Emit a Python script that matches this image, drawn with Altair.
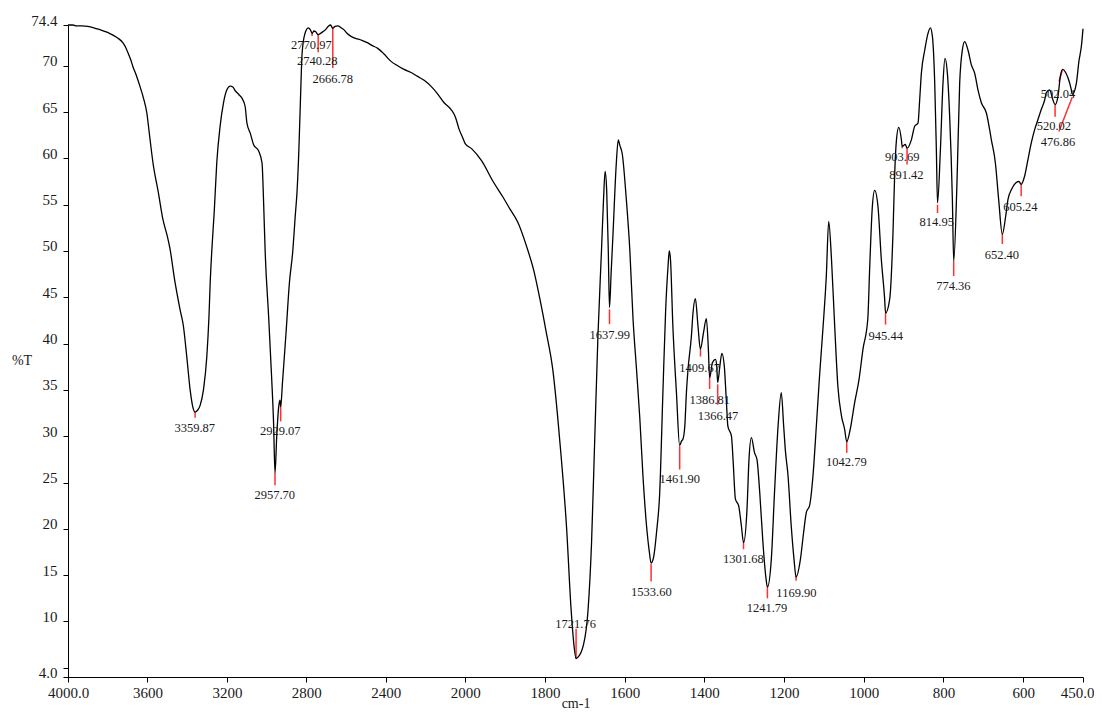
import altair as alt
import pandas as pd

# ---- spectrum (wavenumber cm-1, %T) ----
wn_high = [4000, 3975, 3960, 3930, 3900, 3870, 3840, 3800, 3774, 3750, 3724, 3710, 3698, 3685, 3673,
           3655, 3638, 3620, 3603, 3590, 3572, 3545, 3522, 3500, 3487, 3461, 3436, 3419, 3402, 3385,
           3372, 3360, 3348, 3335, 3318, 3301, 3290, 3284, 3276, 3263, 3251, 3234, 3217, 3200, 3183,
           3170, 3158, 3140, 3124, 3108, 3099, 3082, 3066, 3040, 3023, 3015, 3007, 2990, 2975, 2965,
           2957.7, 2949, 2939, 2933, 2929, 2920, 2902, 2885, 2869, 2855, 2847, 2838, 2830, 2821, 2808,
           2790, 2780, 2771, 2762, 2754, 2740, 2728, 2715, 2703, 2688, 2678, 2667, 2655, 2641, 2625,
           2611, 2595, 2577, 2560, 2543, 2520, 2493, 2470, 2442, 2410, 2375, 2340, 2308, 2275, 2240,
           2205, 2173, 2140, 2106, 2072, 2050, 2030, 2012]
t_high = [74.4, 74.4, 74.3, 74.3, 74.25, 74.1, 73.9, 73.6, 73.3, 73.0, 72.5, 72.0, 71.4, 70.7, 69.9,
          68.9, 67.8, 66.5, 64.9, 62.6, 59.5, 56.3, 53.4, 51.6, 50.3, 46.6, 43.7, 41.9, 38.6, 35.0,
          33.2, 32.6, 32.8, 33.3, 35.0, 38.6, 43.0, 46.6, 50.0, 54.5, 59.5, 63.5, 66.0, 67.4, 67.8,
          67.7, 67.3, 66.9, 66.5, 65.6, 63.8, 62.7, 61.5, 60.8, 59.5, 55.2, 49.8, 43.0, 36.5, 31.5,
          26.0, 30.0, 33.2, 33.9, 33.2, 35.8, 41.2, 46.6, 49.8, 54.0, 56.3, 60.6, 66.0, 71.4, 73.4,
          74.1, 73.9, 73.5, 73.75, 73.7, 73.35, 73.5, 73.7, 73.9, 74.3, 74.4, 74.05, 74.25, 74.3, 74.1,
          73.9, 73.5, 73.2, 73.0, 72.9, 72.75, 72.5, 72.2, 71.9, 71.3, 70.5, 70.0, 69.6, 69.3, 68.85,
          68.4, 67.8, 67.0, 66.0, 65.3, 64.5, 63.1, 62.2]

wn_low = [2000, 1984, 1959, 1930, 1905, 1888, 1868, 1846, 1828, 1813, 1797, 1780, 1763, 1746, 1734,
          1728, 1721.8, 1714, 1709, 1704, 1692, 1683, 1675, 1667, 1658, 1653, 1649, 1645, 1641, 1638,
          1634, 1629, 1621, 1616, 1612, 1606, 1596, 1587, 1579, 1570, 1562, 1554, 1545, 1538, 1533.6,
          1527, 1520, 1512, 1504, 1497, 1491, 1488, 1485, 1479, 1470, 1462, 1457, 1454, 1449, 1445,
          1441, 1432.5, 1428.5, 1422.5, 1416, 1410, 1402, 1395, 1390, 1386.8, 1380, 1372, 1369, 1366.5,
          1361, 1356, 1350, 1345, 1341, 1332, 1328, 1322, 1314, 1307, 1301.7, 1293, 1288, 1282, 1274,
          1268, 1261, 1253, 1246, 1241.8, 1232, 1224, 1215, 1207, 1201, 1197, 1190, 1182, 1175, 1169.9,
          1159, 1151, 1144, 1136, 1127.5, 1119, 1111, 1102, 1094, 1088, 1081, 1073, 1065, 1056, 1048,
          1042.8, 1034, 1023, 1012, 1002, 990, 985, 978.5, 972.7, 964.4, 956, 947.6, 945.4, 935, 926.7,
          922.4, 918, 912.4, 905.6, 903.7, 896, 891.4, 880.6, 872, 864, 859.8, 855.5, 847, 838.9, 832.9,
          827.9, 822, 817.9, 815, 807.8, 801.3, 796.3, 790.3, 784.5, 777.7, 774.4, 766.2, 759.4, 752.7,
          746.9, 738.6, 730.1, 721.8, 713.5, 705, 692.4, 679.9, 669.8, 661.6, 652.4, 644, 638.3, 629.8,
          619, 610.7, 605.2, 596.4, 588, 579.6, 571.3, 563, 554.5, 546.2, 542, 533.7, 525.4, 520, 512.8,
          506.8, 501, 494, 487.7, 479.2, 476.9, 466.7, 460.2, 454.1, 450]
t_low = [61.6, 61.05, 59.75, 57.5, 55.8, 54.55, 53.1, 50.5, 47.9, 44.9, 41.3, 37.1, 29.65, 20.35, 11.1,
         7.8, 6.0, 6.3, 6.7, 7.35, 11.1, 18.5, 29.7, 40.8, 50.1, 55.5, 58.6, 56.5, 50.0, 43.9,
         47.5, 52.0, 59.4, 62.0, 61.4, 60.5, 55.7, 50.1, 42.7, 37.1, 32.0, 25.7, 20.3, 17.5, 16.3,
         17.0, 19.6, 23.9, 34.7, 43.7, 48.4, 50.0, 49.1, 41.9, 34.7, 29.0, 29.5, 29.65, 31.1, 34.7,
         37.2, 40.8, 43.3, 44.85, 41.9, 39.4, 41.2, 42.7, 39.5, 36.3, 37.9, 38.3, 37.6, 35.8,
         37.6, 38.95, 37.6, 34.0, 31.1, 30.0, 27.5, 23.2, 22.5, 20.3, 18.5, 22.1, 27.5, 29.85, 28.2,
         27.5, 23.9, 18.5, 14.9, 13.7, 16.7, 23.9, 31.1, 34.7, 31.1, 28.6, 25.7, 20.3, 16.7, 14.8,
         16.7, 19.6, 21.8, 22.5, 25.7, 31.1, 36.5, 41.9, 47.3, 53.2, 49.1, 41.9, 35.4, 32.2, 30.75,
         29.4, 30.75, 33.6, 36.1, 39.4, 42.6, 48.4, 54.8, 56.55, 54.8, 49.1, 44.8, 43.3, 44.8, 52.0,
         58.4, 62.0, 63.35, 62.0, 61.3, 61.5, 61.1, 62.0, 63.5, 63.8, 66.3, 69.2, 71.7, 73.5, 74.1,
         73.2, 68.1, 60.9, 55.2, 60.9, 68.1, 70.8, 69.2, 64.5, 55.55, 48.9, 57.35, 68.1, 71.7,
         72.6, 71.7, 70.1, 69.2, 67.4, 66.0, 64.9, 62.0, 59.5, 55.55, 51.8, 53.75, 55.55, 56.6,
         57.35, 57.5, 57.2, 58.1, 59.9, 61.7, 63.1, 64.2, 65.3, 66.3, 67.1, 67.4, 66.3, 65.8, 66.7,
         68.85, 69.6, 69.3, 68.7, 67.4, 66.9, 68.1, 70.5, 72.1, 74.0]

# ---- peak annotations ----
peak_labels = ["3359.87", "2957.70", "2929.07", "2770.97", "2740.28", "2666.78", "1721.76",
               "1637.99", "1533.60", "1461.90", "1409.67", "1386.81", "1366.47", "1301.68",
               "1241.79", "1169.90", "1042.79", "945.44", "903.69", "891.42", "814.95", "774.36",
               "652.40", "605.24", "520.02", "502.04", "476.86"]
peak_wn = [3360, 2957.7, 2929, 2771, 2740.3, 2666.8, 1721.8, 1638, 1533.6, 1461.9, 1409.7, 1386.8,
           1366.5, 1301.7, 1241.8, 1169.9, 1042.8, 945.4, 903.7, 891.4, 815, 774.4, 652.4, 605.2,
           520, 502, 477]
peak_t = [32.6, 26.0, 33.6, 73.5, 73.35, 74.1, 5.95, 43.7, 16.2, 28.95, 39.4, 36.3, 35.6, 18.5,
          13.67, 14.9, 29.45, 43.35, 61.3, 61.1, 55.0, 48.9, 51.8, 57.2, 65.8, 69.5, 66.6]
# marker ends and label positions (layout)
mark_end_wn = [3360, 2957.7, 2929, 2771, 2740.3, 2666.8, 1721.8, 1638, 1533.6, 1461.9, 1409.7, 1386.8,
               1366.5, 1301.7, 1241.8, 1169.9, 1042.8, 945.4, 903.7, 891.4, 815, 774.4, 652.4, 605.2,
               520, 510.3, 510.3]
mark_end_t = [32.0, 24.7, 31.6, 73.2, 71.45, 69.75, 9.2, 42.1, 14.3, 26.4, 38.6, 35.1, 33.4, 17.8,
              12.5, 14.4, 28.2, 42.05, 61.1, 59.35, 54.1, 47.3, 50.75, 55.9, 64.5, 68.3, 62.9]
text_wn = [3362, 2959, 2931, 2774.6, 2745, 2667, 1722.8, 1637.4, 1533, 1461.8, 1411.7, 1386.5, 1365.7,
           1302, 1242.8, 1169, 1043.7, 945, 903.6, 893, 817, 775.2, 653.6, 607, 523, 512.8, 512.8]
text_t = [30.9, 23.7, 30.55, 72.2, 70.5, 68.55, 9.75, 40.9, 13.2, 25.35, 37.4, 33.96, 32.2, 16.7,
          11.45, 13.1, 27.2, 40.8, 60.1, 58.2, 53.1, 46.2, 49.6, 54.8, 63.45, 66.9, 61.75]

x_ticks = [4000, 3600, 3200, 2800, 2400, 2000, 1800, 1600, 1400, 1200, 1000, 800, 600, 450]
y_ticks = [4.0, 5, 10, 15, 20, 25, 30, 35, 40, 45, 50, 55, 60, 65, 70, 74.4]

wn_all = wn_high + wn_low
t_all = t_high + t_low
spec = pd.DataFrame({"wn": wn_all, "t": t_all, "i": list(range(len(wn_all)))})
marks = pd.DataFrame({"x1": peak_wn, "y1": peak_t, "x2": mark_end_wn, "y2": mark_end_t})
texts = pd.DataFrame({"tx": text_wn, "ty": text_t, "label": peak_labels})

FONT = "Liberation Serif"
W, H = 1015, 652

xscale = alt.Scale(domain=[4000, 2000, 450], range=[0, 397.2, W], nice=False, zero=False)
yscale = alt.Scale(domain=[4.0, 74.4], nice=False, zero=False)

xaxis = alt.Axis(values=x_ticks, grid=False, title="cm-1",
                 labelExpr="datum.value == 4000 || datum.value == 450 ? format(datum.value, '.1f') : format(datum.value, 'd')",
                 labelOffset={"condition": {"test": "datum.value == 450", "value": -6}, "value": 0},
                 tickSize=5, labelPadding=3, labelFontSize=15, labelFlush=False, labelOverlap=False,
                 titleX=W / 2, titleY=26, titleBaseline="middle", titleAlign="center",
                 titleFontSize=14, titleFontWeight="normal")
yaxis = alt.Axis(values=y_ticks, grid=False, title="%T",
                 labelExpr="datum.value == 5 ? '' : (datum.value % 5 == 0 ? format(datum.value, 'd') : format(datum.value, '.1f'))",
                 tickSize=5, labelPadding=6, labelFontSize=15, labelOverlap=False,
                 labelBaseline="alphabetic",
                 titleAngle=0, titleX=-46.5, titleY=335, titleBaseline="middle", titleAlign="center",
                 titleFontSize=14, titleFontWeight="normal")

line = alt.Chart(spec).mark_line(color="black", strokeWidth=1.3, interpolate="monotone").encode(
    x=alt.X("wn:Q", scale=xscale, axis=xaxis),
    y=alt.Y("t:Q", scale=yscale, axis=yaxis),
    order=alt.Order("i:Q"),
)

rules = alt.Chart(marks).mark_rule(color="#ff3030", strokeWidth=1.5).encode(
    x=alt.X("x1:Q", scale=xscale),
    x2="x2:Q",
    y=alt.Y("y1:Q", scale=yscale),
    y2="y2:Q",
)

labels = alt.Chart(texts).mark_text(font=FONT, fontSize=12.5, color="#1a1a1a",
                                    align="center", baseline="middle").encode(
    x=alt.X("tx:Q", scale=xscale),
    y=alt.Y("ty:Q", scale=yscale),
    text="label:N",
)

chart = alt.layer(rules, line, labels).properties(
    width=W, height=H,
    autosize=alt.AutoSizeParams(type="none"),
    padding={"left": 60, "top": 17, "right": 11, "bottom": 35},
).configure_view(strokeWidth=0).configure_axis(
    labelFont=FONT, titleFont=FONT, labelColor="#1a1a1a", titleColor="#1a1a1a",
    domainColor="black", tickColor="black", domainWidth=1, tickWidth=1,
)

chart.save("out.html", embed_options={"renderer": "svg", "actions": False})
